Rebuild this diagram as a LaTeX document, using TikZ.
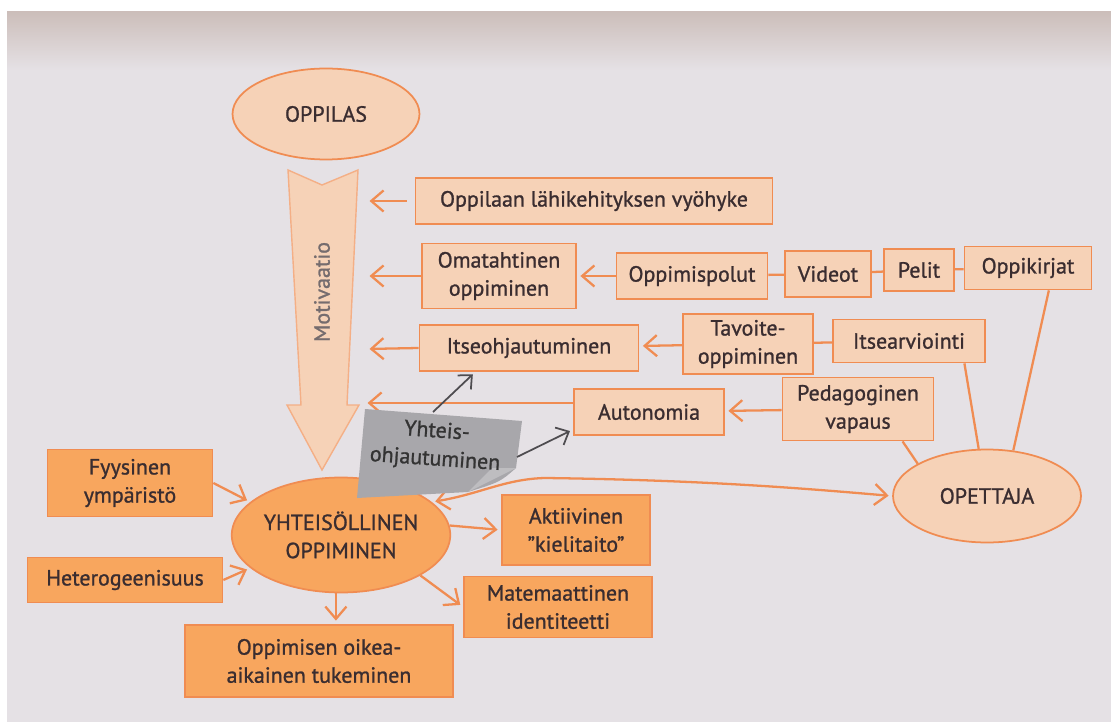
\documentclass[tikz,border=0pt]{standalone}
\usepackage{fontspec}
\setmainfont[FakeBold=1.1]{PT Sans}
\usetikzlibrary{shapes.geometric,arrows.meta,positioning}
\definecolor{page}{RGB}{229,225,229}
\definecolor{pagetop}{RGB}{204,190,186}
\definecolor{edge}{RGB}{240,140,82}
\definecolor{pale}{RGB}{246,210,183}
\definecolor{deep}{RGB}{248,166,94}
\definecolor{ink}{RGB}{58,45,48}
\definecolor{note}{RGB}{168,167,171}
\definecolor{pencil}{RGB}{78,76,80}

\begin{document}
\begin{tikzpicture}[x=0.02cm,y=-0.02cm,font=\fontsize{12.5}{16}\selectfont,text=ink]
    \tikzstyle{pbox}=[rectangle,draw=edge,fill=pale,line width=1pt,align=center,inner sep=0pt]
    \tikzstyle{dbox}=[pbox,fill=deep]
    \tikzstyle{blob}=[ellipse,draw=edge,fill=pale,line width=1pt,align=center,inner sep=0pt]
    \tikzstyle{link}=[draw=edge,line width=1.3pt]
    \tikzstyle{feed}=[link,-{Straight Barb[length=7pt,width=12pt]},shorten >=2pt]
    \tikzstyle{hint}=[draw=pencil,line width=1pt,-{Straight Barb[length=6pt,width=11pt]},shorten >=2pt]

    \useasboundingbox (0,0) rectangle (1111,722);
    \fill[white] (0,0) rectangle (1111,722);
    \fill[page] (7,12) rectangle (1111,722);
    \shade[top color=pagetop,bottom color=page] (7,12) rectangle (1111,70);

    \node[blob, minimum width=3.74cm, minimum height=1.82cm] (oppilas) at (326,114) {OPPILAS};

    \filldraw[draw=edge!70,fill=pale,line width=0.8pt] (288,170) -- (322,185) -- (358,170)
      -- (347,405) -- (359,405) -- (322,470) -- (287,405) -- (301,405) -- cycle;
    \node[rotate=90,text=ink!70] (motiv) at (322,292) {Motivaatio};

    \node[pbox, minimum width=7.14cm, minimum height=0.92cm] (lahi) at (594,201) {Oppilaan lähikehityksen vyöhyke};
    \node[pbox, minimum width=3.08cm, minimum height=1.3cm] (omat) at (499,276) {Omatahtinen\\oppiminen};
    \node[pbox, minimum width=3.02cm, minimum height=0.92cm] (polut) at (692,276) {Oppimispolut};
    \node[pbox, minimum width=1.72cm, minimum height=0.92cm] (videot) at (828,274) {Videot};
    \node[pbox, minimum width=1.4cm, minimum height=0.84cm] (pelit) at (919,270) {Pelit};
    \node[pbox, minimum width=2.54cm, minimum height=0.86cm] (kirjat) at (1028,268) {Oppikirjat};
    \node[pbox, minimum width=4.38cm, minimum height=0.92cm] (itseohj) at (529,348) {Itseohjautuminen};
    \node[pbox, minimum width=2.6cm, minimum height=1.2cm] (tavoite) at (748,344) {Tavoite-\\oppiminen};
    \node[pbox, minimum width=3.04cm, minimum height=0.86cm] (arvio) at (909,341) {Itsearviointi};
    \node[pbox, minimum width=3cm, minimum height=0.92cm] (auto) at (649,412) {Autonomia};
    \node[pbox, minimum width=3.02cm, minimum height=1.26cm] (peda) at (858,409) {Pedagoginen\\vapaus};
    \node[blob, minimum width=3.76cm, minimum height=1.86cm] (ope) at (987,496) {OPETTAJA};

    \node[dbox, minimum width=3.3cm, minimum height=1.34cm] (fyys) at (130,483) {Fyysinen\\ympäristö};
    \node[dbox, minimum width=3.9cm, minimum height=0.9cm] (hetero) at (125,580) {Heterogeenisuus};
    \node[blob, fill=deep, minimum width=4.04cm, minimum height=2.3cm] (yht) at (341,535) {YHTEISÖLLINEN\\OPPIMINEN};
    \node[dbox, minimum width=2.96cm, minimum height=1.4cm] (akt) at (576,530) {Aktiivinen\\”kielitaito”};
    \node[dbox, minimum width=3.76cm, minimum height=1.22cm] (mate) at (558,607) {Matemaattinen\\identiteetti};
    \node[dbox, minimum width=5.36cm, minimum height=1.44cm] (tuki) at (319,661) {Oppimisen oikea-\\aikainen tukeminen};

    \coordinate (m1) at (366,201);
    \coordinate (m2) at (366,276);
    \coordinate (m3) at (366,349);
    \coordinate (m4) at (364,403);

    \draw[feed] (lahi.west) ++(-8,0) -- (m1);
    \draw[feed] (omat.west) -- (m2);
    \draw[feed] (itseohj.west) -- (m3);
    \draw[feed] (auto.west |- m4) -- (m4);

    \foreach \a/\b in {polut/videot,videot/pelit,pelit/kirjat,tavoite/arvio}
    \draw[link] (\a) -- (\b);

    \draw[feed] (polut) -- (omat);
    \draw[feed] (tavoite) -- (itseohj);
    \draw[feed] (peda) -- (auto);

    \draw[link] (peda.-36) -- (ope.155);
    \draw[link] (arvio.-22) -- (ope.100);
    \draw[link] (kirjat.-47) -- (ope.60);

    \draw[link,{Straight Barb[length=7pt,width=12pt]}-{Straight Barb[length=7pt,width=12pt]},shorten <=2pt,shorten >=2pt]
      (yht.20) .. controls (480,494) and (505,479) .. (545,478) .. controls (700,480) and (800,488) .. (ope.west);

    \draw[feed] (fyys.east) -- (yht.160);
    \draw[feed] (hetero.east) -- (yht.200);
    \draw[feed] (yht.5) -- (akt.west);
    \draw[feed] (yht.-27) -- (mate.west);
    \draw[feed] (yht.-95) -- (yht.-95 |- tuki.north);

    \fill[note] (365,409) -- (522,421) -- (516,468) .. controls (500,482) .. (468,492) -- (357,498) -- cycle;
    \fill[note!75!white] (516,468) -- (468,492) -- (492,468) -- cycle;
    \node[rotate=-4,align=center,text=black!80] (yo) at (436,446) {Yhteis-\\ohjautuminen};
    \coordinate (n1) at (433,412);
    \coordinate (n2) at (517,457);

    \draw[hint] (n1) -- (itseohj.-156);
    \draw[hint] (n2) -- (auto.-167);
  \end{tikzpicture}
\end{document}
